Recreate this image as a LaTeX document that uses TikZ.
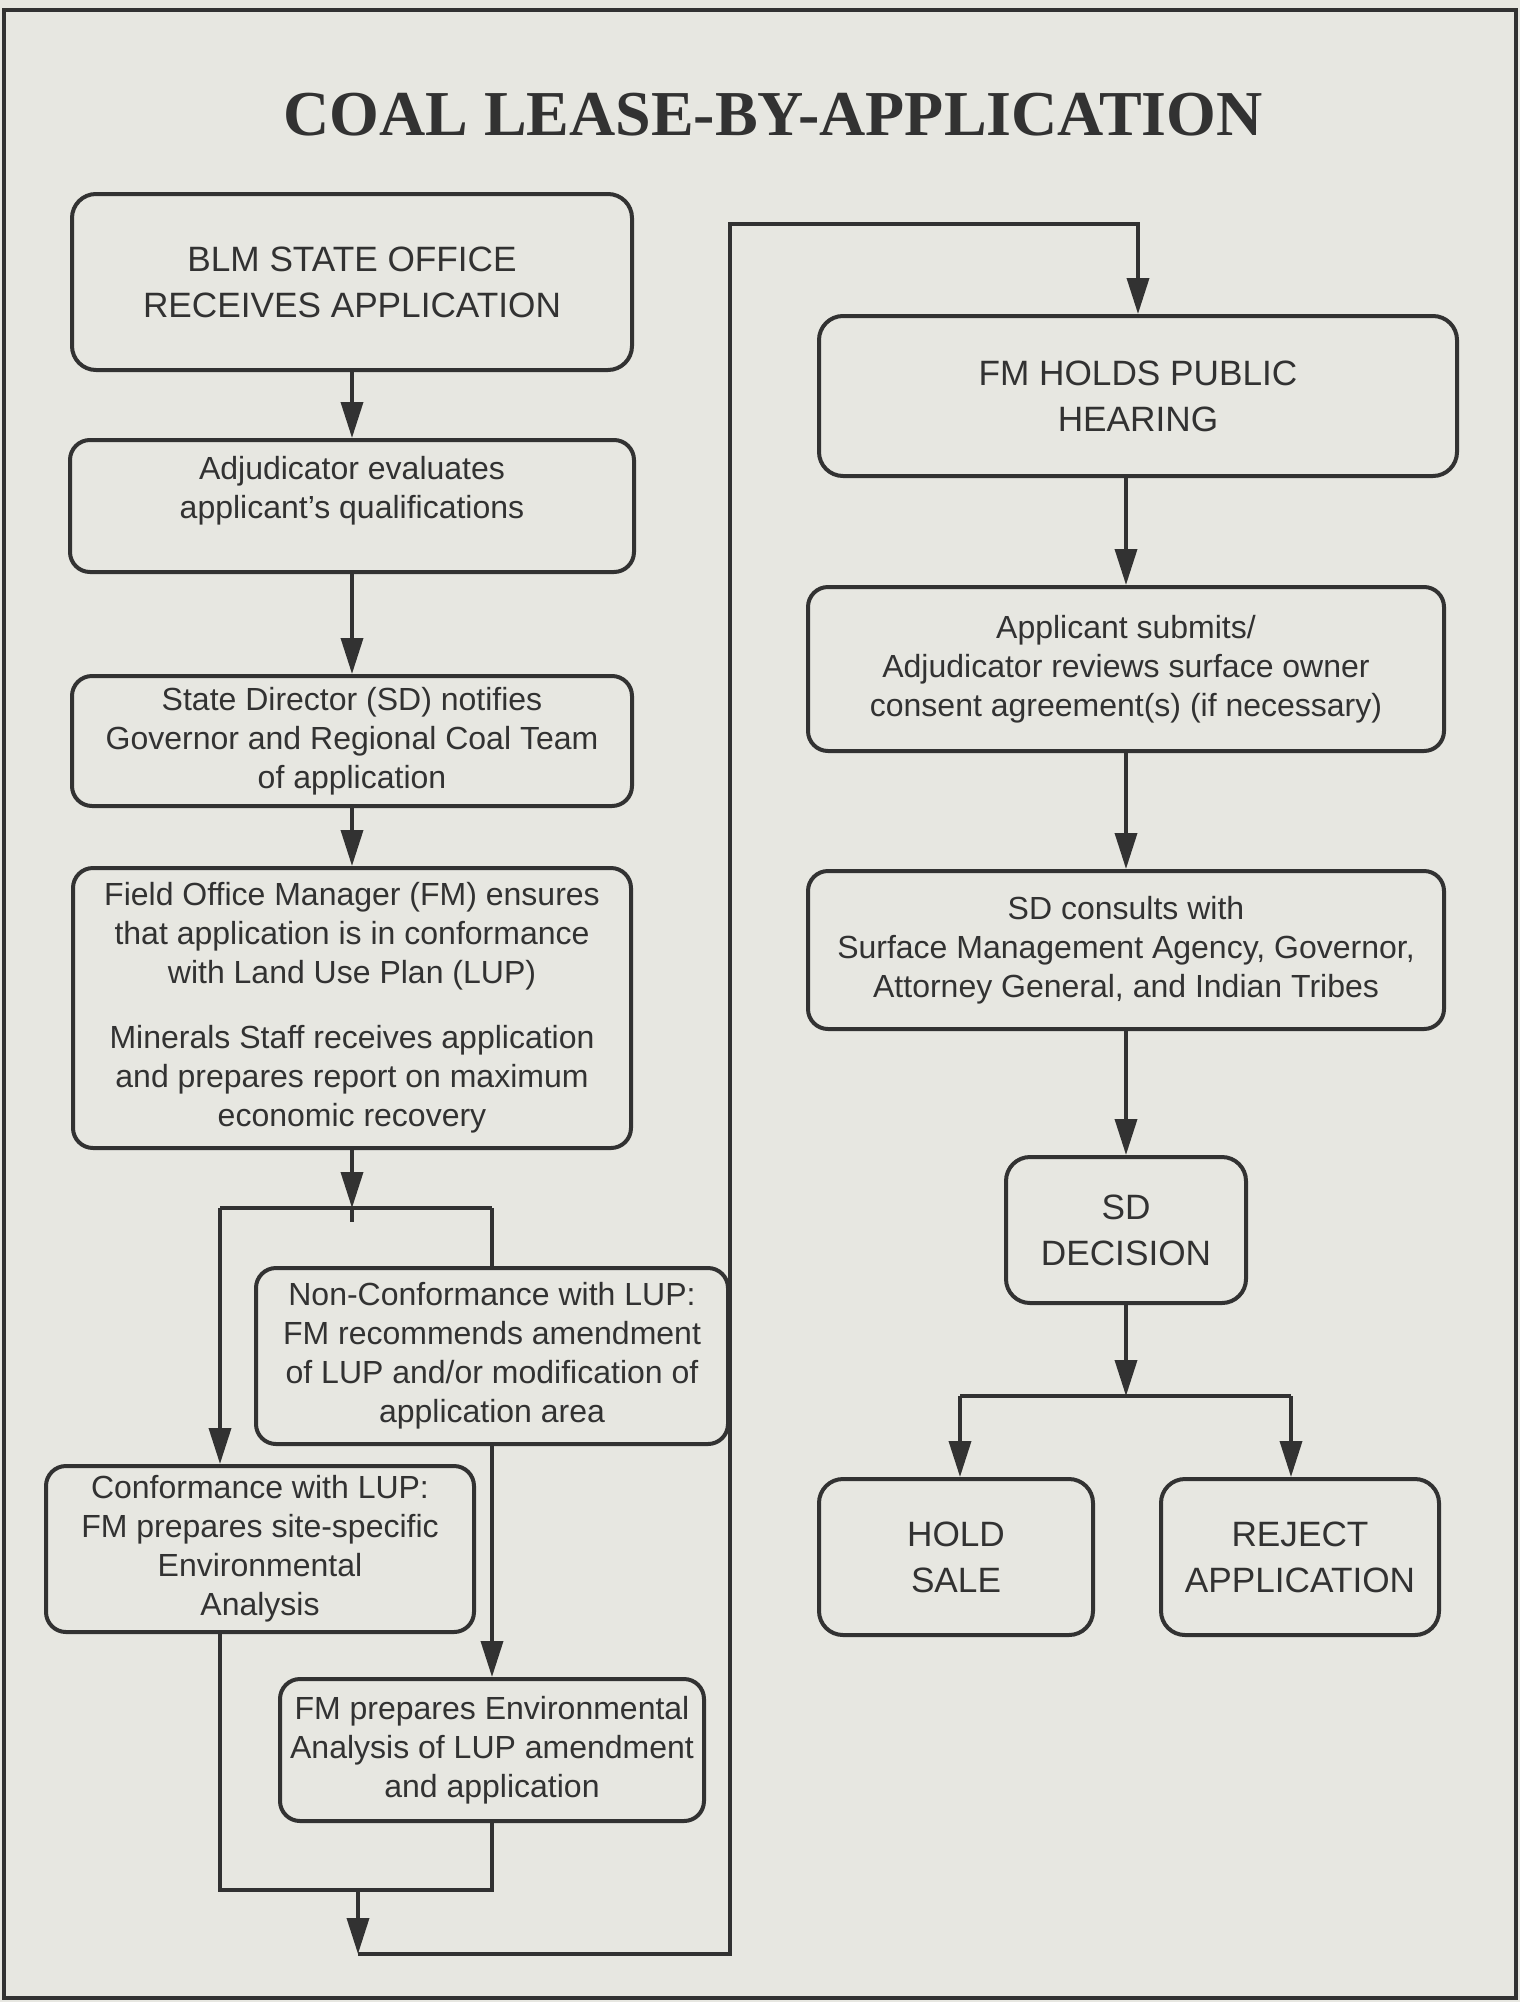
\documentclass[tikz,border=0pt]{standalone}
\usepackage{fontspec}
\setmainfont{Liberation Sans}
\newfontfamily\titlefont{Liberation Serif}
\usepackage{tikz}
\usetikzlibrary{arrows.meta,calc,positioning}

\definecolor{paper}{RGB}{231,231,225}
\definecolor{ink}{RGB}{50,50,50}

\begin{document}
\begin{tikzpicture}[
  x=1pt, y=-1pt,
  box/.style={rectangle, draw=ink, line width=2pt, rounded corners=10pt, text=ink,
              inner sep=2pt, align=center, font=\fontsize{16}{19.5}\selectfont},
  bigbox/.style={box, rounded corners=12pt, font=\fontsize{17.6}{23}\selectfont},
  arr/.style={-{Triangle[length=18pt,width=11pt]}, line width=1.8pt, draw=ink},
  wire/.style={line width=1.8pt, draw=ink},
]
\useasboundingbox (0,0) rectangle (760,1001);
\fill[paper] (0,0) rectangle (760,1001);
\draw[ink, line width=1.6pt] (2,5) rectangle (758,999);

\node[text=ink, font=\titlefont\bfseries\fontsize{32}{36}\selectfont] (title) at (386.5,57.5) {COAL LEASE-BY-APPLICATION};

% left column
\node[bigbox, minimum width=280pt, minimum height=88pt] (blm) at (176,141) {BLM STATE OFFICE\\RECEIVES APPLICATION};
\node[box, minimum width=282pt, minimum height=66pt, text depth=19pt, below=33pt of blm] (adj) {Adjudicator evaluates\\applicant’s qualifications};
\node[box, minimum width=280pt, minimum height=65pt, below=50pt of adj] (sd) {State Director (SD) notifies\\Governor and Regional Coal Team\\of application};
\node[box, minimum width=279pt, minimum height=140pt, below=29pt of sd] (fom) {Field Office Manager (FM) ensures\\that application is in conformance\\with Land Use Plan (LUP)\\[13pt]Minerals Staff receives application\\and prepares report on maximum\\economic recovery};

\node[box, minimum width=236pt, minimum height=88pt] (noncon) at (246,678) {Non-Conformance with LUP:\\FM recommends amendment\\of LUP and/or modification of\\application area};
\node[box, minimum width=214pt, minimum height=83pt] (con) at (130,774.5) {Conformance with LUP:\\FM prepares site-specific\\Environmental\\Analysis};
\node[box, minimum width=212pt, minimum height=71pt] (ea) at (246,875) {FM prepares Environmental\\Analysis of LUP amendment\\and application};

% right column
\node[bigbox, minimum width=319pt, minimum height=80pt] (hear) at (569,198) {FM HOLDS PUBLIC\\HEARING};
\node[box, minimum width=318pt, minimum height=82pt] (app) at (563,334.5) {Applicant submits/\\Adjudicator reviews surface owner\\consent agreement(s) (if necessary)};
\node[box, minimum width=318pt, minimum height=79pt, below=58pt of app] (cons) {SD consults with\\Surface Management Agency, Governor,\\Attorney General, and Indian Tribes};
\node[bigbox, minimum width=120pt, minimum height=73pt, below=62pt of cons] (dec) {SD\\DECISION};
\node[bigbox, minimum width=137pt, minimum height=78pt] (hold) at (478,778.5) {HOLD\\SALE};
\node[bigbox, minimum width=139pt, minimum height=78pt] (rej) at (650,778.5) {REJECT\\APPLICATION};

\coordinate (split) at (176,604);
\coordinate (splitL) at (110,604);
\coordinate (splitR) at (246,604);
\coordinate (joinL) at (110,945);
\coordinate (joinR) at (246,945);
\coordinate (join) at (179,945);
\coordinate (low) at (179,977);
\coordinate (riseB) at (365,977);
\coordinate (riseT) at (365,112);
\coordinate (choice) at (563,698);
\coordinate (choiceL) at (480,698);
\coordinate (choiceR) at (645.5,698);

\draw[arr] (blm) -- (adj);
\draw[arr] (adj) -- (sd);
\draw[arr] (sd) -- (fom);
\draw[arr] (fom) -- (split);
\draw[wire] (split) -- ++(0,7);
\draw[wire] (splitL) -- (splitR);
\draw[arr] (splitL) -- (con.north -| splitL);
\draw[wire] (splitR) -- (noncon.north -| splitR);
\draw[arr] (noncon) -- (ea);
\draw[wire] (con.south -| joinL) -- (joinL) -- (joinR) -- (ea.south -| joinR);
\draw[arr] (join) -- (low);
\draw[arr] (low) -- (riseB) -- (riseT) -| (hear.north);

\draw[arr] (hear.south -| app.north) -- (app);
\draw[arr] (app) -- (cons);
\draw[arr] (cons) -- (dec);
\draw[arr] (dec) -- (choice);
\draw[wire] (choiceL) -- (choiceR);
\draw[arr] (choiceL) -- (hold.north -| choiceL);
\draw[arr] (choiceR) -- (rej.north -| choiceR);
\end{tikzpicture}
\end{document}
